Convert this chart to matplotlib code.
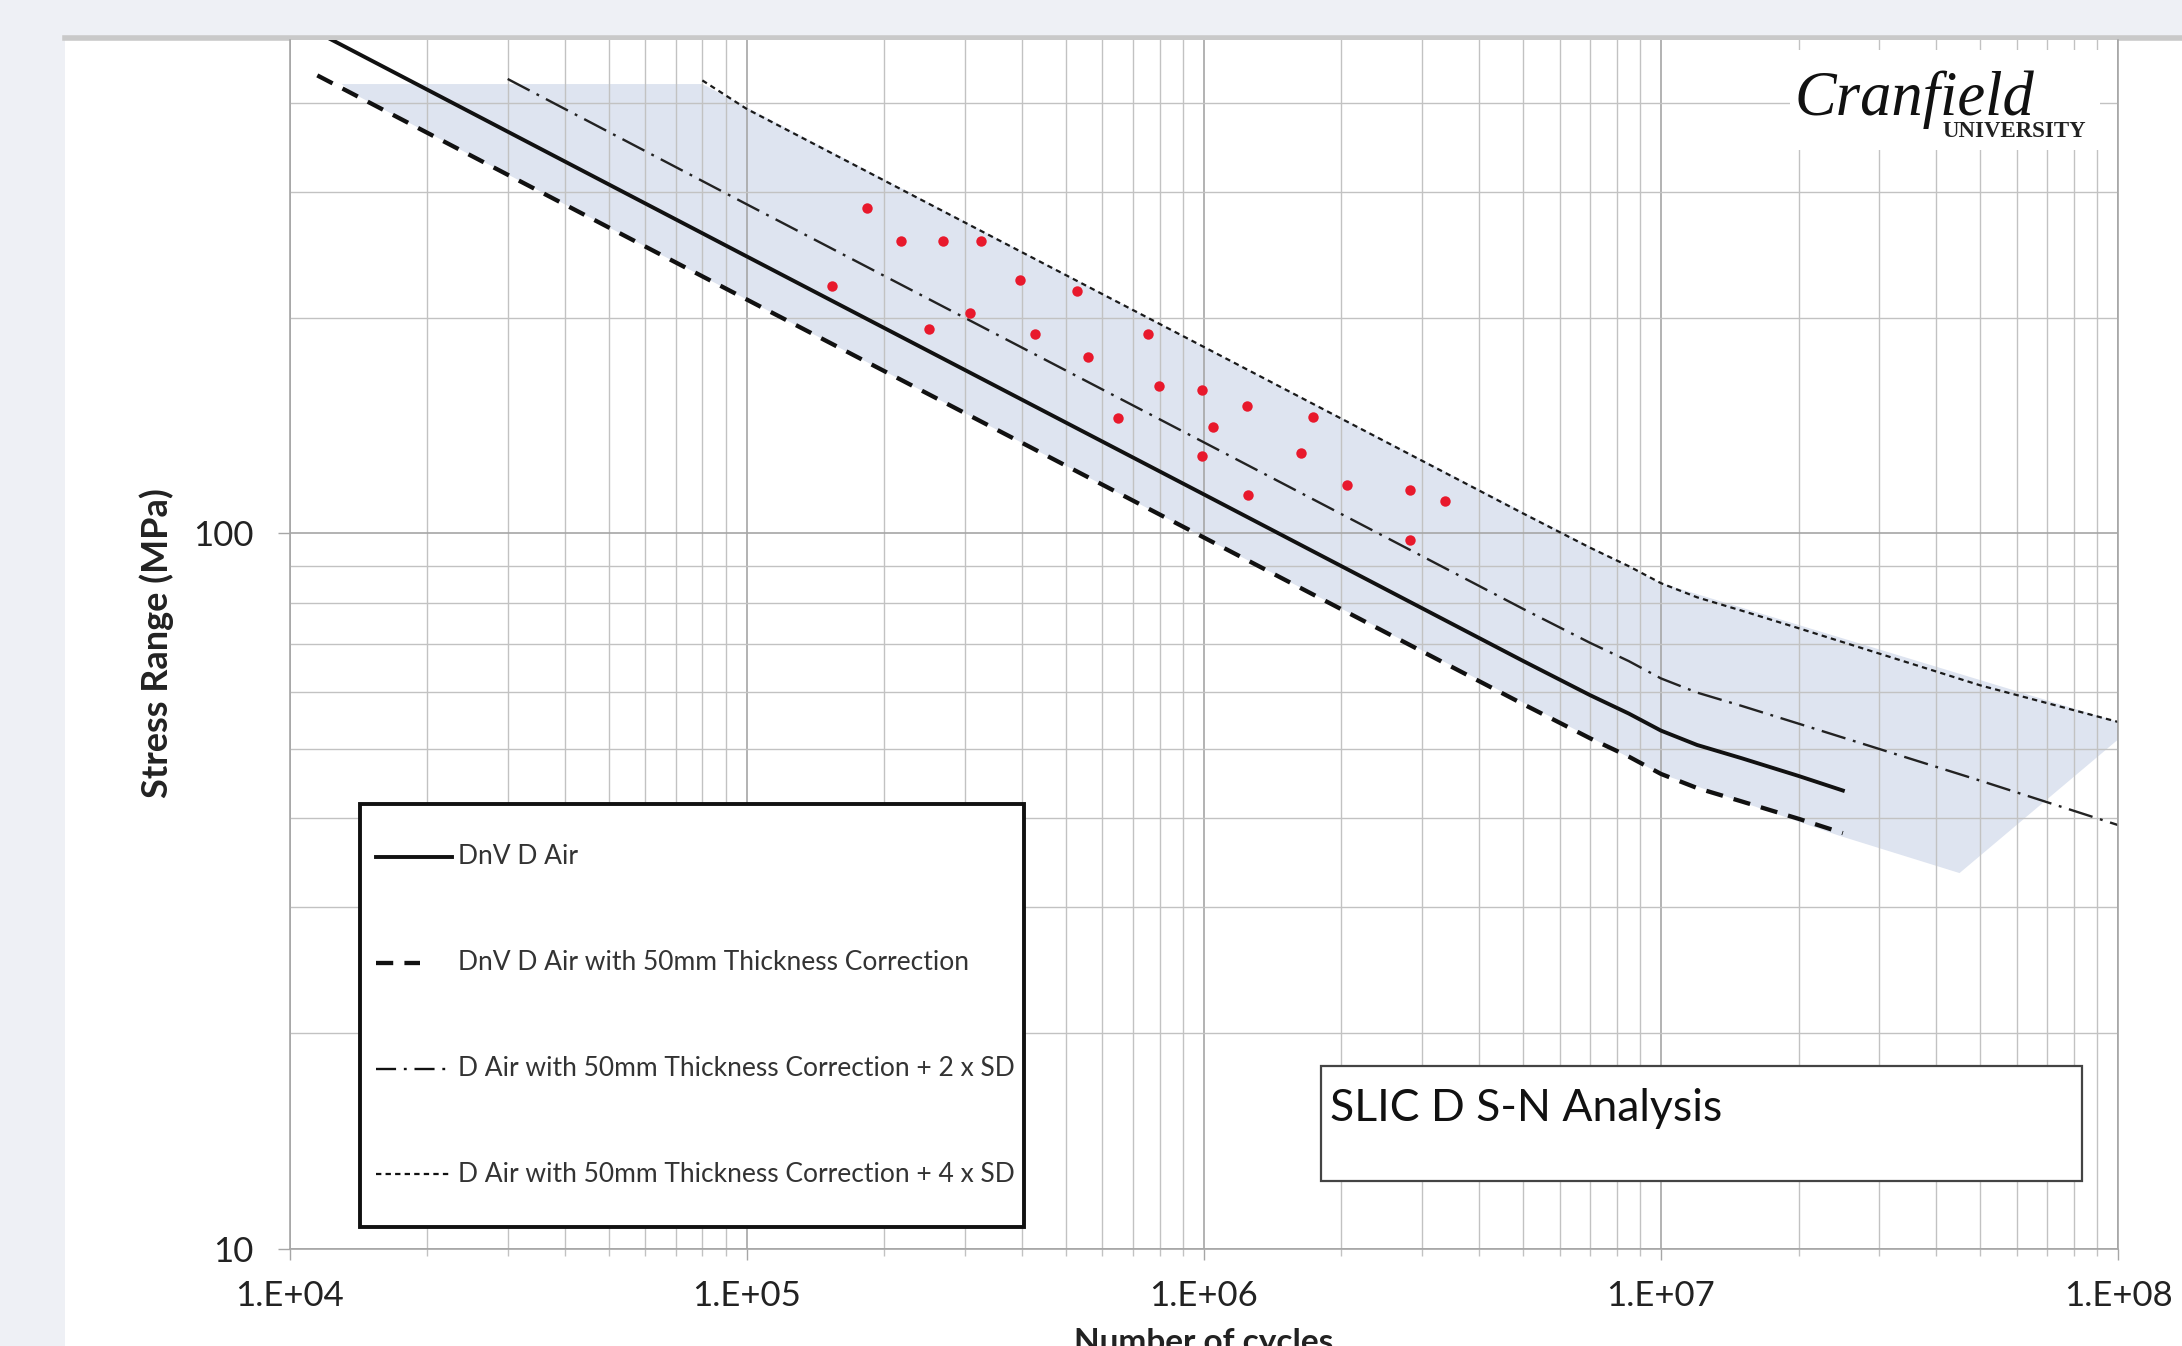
import numpy as np
import matplotlib.pyplot as plt
from matplotlib.patches import Rectangle, Polygon
from matplotlib.lines import Line2D
from matplotlib.ticker import LogLocator, FuncFormatter, NullFormatter

plt.rcParams['font.family'] = ['Lato', 'DejaVu Sans']

# S-N curves (cycles, stress range MPa)
n_air = [1.2e4, 1e5, 1e6, 5e6, 7e6, 8.5e6, 1e7, 1.2e7, 1.5e7, 2e7, 2.5e7]
s_air = [495, 244, 113.4, 66.3, 59.4, 56.0, 53.0, 50.6, 48.5, 45.8, 43.7]

n_corr = [1.15e4, 1e5, 1e6, 5e6, 7e6, 8.5e6, 1e7, 1.2e7, 1.5e7, 2e7, 2.5e7]
s_corr = [437, 212.4, 98.7, 57.7, 51.7, 48.75, 46.1, 44.05, 42.2, 39.9, 38.1]

n_2sd = [3.0e4, 1e5, 1e6, 5e6, 7e6, 8.5e6, 1e7, 1.2e7, 1.5e7, 2e7, 5e7, 1e8]
s_2sd = [432, 288.6, 134.1, 78.4, 70.3, 66.3, 62.7, 59.9, 57.4, 54.2, 45.1, 39.1]

n_4sd = [8.0e4, 1e5, 1e6, 5e6, 7e6, 8.5e6, 1e7, 1.2e7, 1.5e7, 2e7, 5e7, 1e8]
s_4sd = [430, 392.3, 182.3, 106.6, 95.5, 90.0, 85.2, 81.4, 78.0, 73.7, 61.3, 54.5]

# shaded scatter band outline
band_n = [1.3e4, 8.0e4, 1e6, 1e7, 1e8, 1e8, 4.5e7, 2.45e7, 1e7, 1e6, 1e5, 1.4e4]
band_s = [425, 425, 182.3, 85.2, 54.5, 51.5, 33.5, 37.8, 46.1, 98.7, 212.4, 410]

# test results
test_n = [1.83e5, 2.18e5, 2.69e5, 3.26e5, 1.54e5, 3.96e5, 5.28e5, 3.08e5, 2.51e5,
          4.28e5, 7.56e5, 5.57e5, 7.97e5, 9.93e5, 1.24e6, 6.49e5, 1.73e6, 1.05e6,
          9.93e5, 1.63e6, 2.06e6, 2.82e6, 3.37e6, 1.25e6, 2.82e6]
test_s = [285, 256, 256, 256, 222, 226.5, 218, 203.5, 193,
          190, 190, 176.4, 161, 158.8, 150.7, 145, 145.7, 140.8,
          128.3, 129.7, 116.7, 114.9, 110.9, 113, 98]

labels = ['DnV D Air',
          'DnV D Air with 50mm Thickness Correction',
          'D Air with 50mm Thickness Correction + 2 x SD',
          'D Air with 50mm Thickness Correction + 4 x SD']

W, H = 2182, 1346
fig = plt.figure(figsize=(W / 100, H / 100), dpi=100, facecolor='#eef0f5')

def fx(px):
    return px / W

def fy(py):
    return 1 - py / H

# white panel
fig.patches.append(Rectangle((fx(65), 0), 1, fy(38), transform=fig.transFigure,
                             facecolor='white', edgecolor='none', zorder=-2))
fig.lines.append(Line2D([fx(65), 1], [fy(38), fy(38)], transform=fig.transFigure,
                        color='#c9c9c9', lw=4, zorder=-1))

ax = fig.add_axes([0.1327, 0.0724, 0.838, 0.898])
ax.set_xscale('log')
ax.set_yscale('log')
ax.set_xlim(1e4, 1e8)
ax.set_ylim(10, 490)
ax.set_facecolor('white')
ax.set_axisbelow(True)

ax.add_patch(Polygon(np.column_stack([band_n, band_s]), closed=True,
                     facecolor='#dee4f0', edgecolor='none', zorder=0.3))

ax.plot(n_air, s_air, color='#111111', lw=2.8, zorder=2)
ax.plot(n_corr, s_corr, color='#111111', lw=3.1, linestyle=(0, (4.0, 2.6)), zorder=2)
ax.plot(n_2sd, s_2sd, color='#222222', lw=1.7, linestyle=(0, (10.5, 3.3, 1.2, 3.3)), zorder=2)
ax.plot(n_4sd, s_4sd, color='#1a1a1a', lw=1.6, linestyle=(0, (2.4, 1.9)), zorder=2)
ax.plot(test_n, test_s, 'o', color='#e8192c', markersize=7.5, markeredgewidth=0, zorder=3)

ax.xaxis.set_major_locator(LogLocator(base=10, numticks=10))
ax.xaxis.set_minor_locator(LogLocator(base=10, subs=np.arange(2, 10), numticks=20))
ax.yaxis.set_major_locator(LogLocator(base=10, numticks=10))
ax.yaxis.set_minor_locator(LogLocator(base=10, subs=np.arange(2, 10), numticks=20))
ax.xaxis.set_major_formatter(FuncFormatter(lambda v, p: '1.E+%02d' % int(round(np.log10(v)))))
ax.yaxis.set_major_formatter(FuncFormatter(lambda v, p: '%g' % v))
ax.xaxis.set_minor_formatter(NullFormatter())
ax.yaxis.set_minor_formatter(NullFormatter())

ax.grid(which='major', color='#a6a6a6', lw=1.2)
ax.grid(which='minor', color='#c2c2c2', lw=1.0)
ax.tick_params(axis='x', which='major', length=8, width=1, color='#a6a6a6', pad=15,
               labelsize=25, labelcolor='#222222')
ax.tick_params(axis='x', which='minor', length=5, width=1, color='#c2c2c2')
ax.tick_params(axis='y', which='major', length=9, width=1, color='#a6a6a6', pad=17,
               labelsize=25, labelcolor='#222222')
ax.tick_params(axis='y', which='minor', length=0)
ax.spines['top'].set_visible(False)
for side in ['left', 'bottom', 'right']:
    ax.spines[side].set_color('#a6a6a6')
    ax.spines[side].set_linewidth(1.2)

fig.text(fx(157), fy(643), 'Stress Range (MPa)', rotation=90, ha='center', va='center',
         fontsize=26, fontweight='bold', color='#222222')
fig.text(fx(1204), fy(1328), 'Number of cycles', ha='center', va='top',
         fontsize=24, fontweight='bold', color='#222222')

# legend box
fig.patches.append(Rectangle((fx(360), fy(1227)), fx(1024) - fx(360), fy(804) - fy(1227),
                             transform=fig.transFigure, facecolor='white',
                             edgecolor='#111111', lw=2.8, zorder=4))
styles = [dict(lw=2.8, linestyle='-'),
          dict(lw=3.1, linestyle=(0, (4.0, 2.6))),
          dict(lw=1.7, linestyle=(0, (8.5, 3.3, 1.2, 3.3))),
          dict(lw=1.6, linestyle=(0, (2.4, 1.9)))]
rows = [857, 963, 1069, 1174]
ends = [452, 420, 452, 452]
for lab, st, py, x1 in zip(labels, styles, rows, ends):
    fig.lines.append(Line2D([fx(376), fx(x1)], [fy(py), fy(py)], transform=fig.transFigure,
                            color='#111111', zorder=5, **st))
    fig.text(fx(458), fy(py), lab, ha='left', va='center', fontsize=19,
             color='#333333', zorder=5)

# title box
fig.patches.append(Rectangle((fx(1321), fy(1181)), fx(2082) - fx(1321), fy(1066) - fy(1181),
                             transform=fig.transFigure, facecolor='white',
                             edgecolor='#444444', lw=1.6, zorder=4))
fig.text(fx(1330), fy(1121), 'SLIC D S-N Analysis', ha='left', va='baseline',
         fontsize=32, color='#111111', zorder=5)

# logo
fig.patches.append(Rectangle((fx(1790), fy(150)), fx(2100) - fx(1790), fy(50) - fy(150),
                             transform=fig.transFigure, facecolor='white',
                             edgecolor='none', zorder=4))
fig.text(fx(1795), fy(115), 'Cranfield', ha='left', va='baseline', fontsize=45,
         family='Liberation Serif', style='italic', color='#111111', zorder=5)
fig.text(fx(1942), fy(137), 'UNIVERSITY', ha='left', va='baseline', fontsize=16.5,
         family='Liberation Serif', fontweight='bold', color='#222222', zorder=5)

fig.savefig('out.png', dpi=100)
